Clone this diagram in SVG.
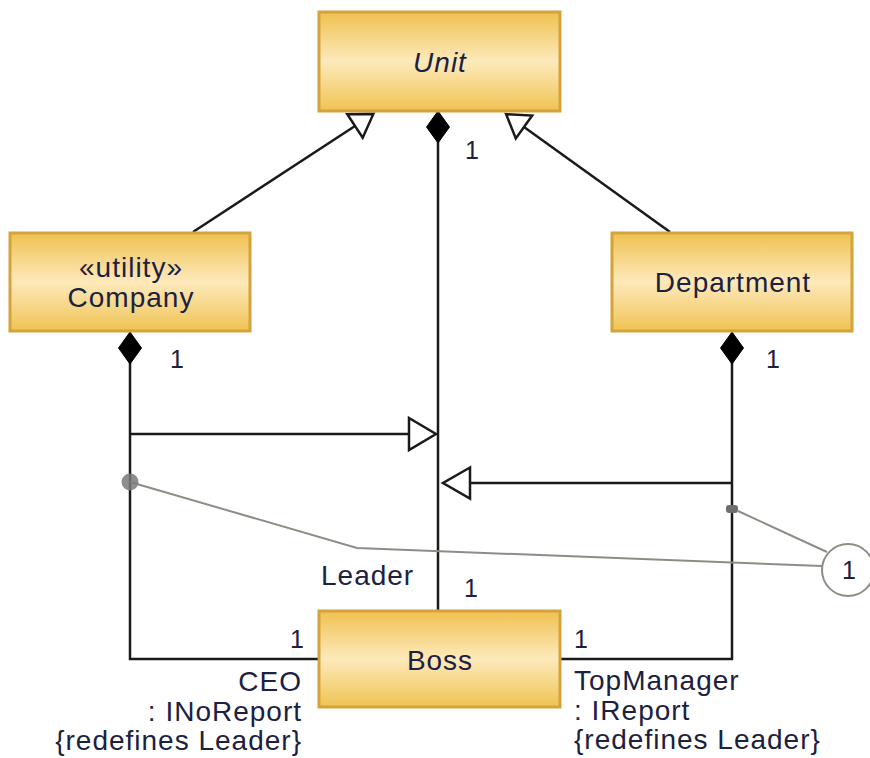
<svg xmlns="http://www.w3.org/2000/svg" width="870" height="758" viewBox="0 0 870 758">
  <defs>
    <linearGradient id="gold" x1="0" y1="0" x2="0" y2="1">
      <stop offset="0" stop-color="#efc150"/>
      <stop offset="0.5" stop-color="#fde9bb"/>
      <stop offset="1" stop-color="#efc353"/>
    </linearGradient>
    <style>
      .box { fill: url(#gold); stroke: #d5a33b; stroke-width: 3; }
      .name { font-family: "Liberation Sans", Arial, sans-serif; font-size: 28px; letter-spacing: 1px; fill: #1c2140; text-anchor: middle; }
      .lbl { font-family: "Liberation Sans", Arial, sans-serif; font-size: 28px; letter-spacing: 1px; fill: #1c2140; }
      .mult { font-family: "Liberation Sans", Arial, sans-serif; font-size: 25px; fill: #1c2140; }
      .ln { stroke: #1a1a1a; stroke-width: 2.5; fill: none; }
      .hollow { fill: #ffffff; stroke: #1a1a1a; stroke-width: 2.5; stroke-linejoin: miter; }
      .diamond { fill: #000000; stroke: #000000; stroke-width: 1; }
      .note { stroke: #8e8d85; stroke-width: 2; fill: none; }
    </style>
  </defs>

  <!-- connectors -->
  <g id="connectors">
    <!-- generalizations to Unit -->
    <line class="ln" x1="193" y1="232" x2="355" y2="126"/>
    <polygon class="hollow" points="347.3,114.3 362.7,137.7 373.4,113.9"/>
    <line class="ln" x1="670" y1="232" x2="524" y2="127"/>
    <polygon class="hollow" points="532.2,115.6 515.8,138.4 506.1,114.2"/>

    <!-- composition Unit - Boss -->
    <line class="ln" x1="438" y1="130" x2="438" y2="611"/>
    <polygon class="diamond" points="438,111 449.5,127 438,143 426.5,127"/>

    <!-- composition Company - Boss (CEO) -->
    <polyline class="ln" points="130,350 130,659 319,659"/>
    <polygon class="diamond" points="130,332 141.5,348 130,364 118.5,348"/>

    <!-- composition Department - Boss (TopManager) -->
    <polyline class="ln" points="732,350 732,659 560,659"/>
    <polygon class="diamond" points="732,332 743.5,348 732,364 720.5,348"/>

    <!-- redefinition arrows -->
    <line class="ln" x1="130" y1="434" x2="409" y2="434"/>
    <polygon class="hollow" points="409,418 436,434 409,450"/>
    <line class="ln" x1="470" y1="483" x2="732" y2="483"/>
    <polygon class="hollow" points="470,467.5 443,483 470,498.5"/>

    <!-- constraint note links -->
    <polyline class="note" points="130,482 357,548 822,566"/>
    <line class="note" x1="738" y1="511" x2="827" y2="552"/>
    <circle cx="130" cy="482" r="8.5" fill="#7a7a7a" fill-opacity="0.85"/>
    <rect x="726" y="505" width="12" height="8" rx="3" fill="#6e6e6e"/>
  </g>

  <!-- constraint marker -->
  <g id="constraint">
    <circle cx="848" cy="570" r="26" fill="#ffffff" stroke="#8e8d85" stroke-width="2"/>
    <text class="mult" x="849" y="579" text-anchor="middle">1</text>
  </g>

  <g id="unit">
    <rect class="box" x="319" y="12" width="241" height="99"/>
    <text class="name" x="440" y="72" font-style="italic">Unit</text>
  </g>

  <g id="company">
    <rect class="box" x="10" y="233" width="240" height="98"/>
    <text class="name" x="131" y="277">«utility»</text>
    <text class="name" x="131" y="307">Company</text>
  </g>

  <g id="department">
    <rect class="box" x="612" y="233" width="240" height="98"/>
    <text class="name" x="733" y="292">Department</text>
  </g>

  <g id="boss">
    <rect class="box" x="319" y="611" width="241" height="96"/>
    <text class="name" x="440" y="670">Boss</text>
  </g>

  <!-- association end labels -->
  <g id="labels">
    <text class="mult" x="465" y="159">1</text>
    <text class="mult" x="170" y="368">1</text>
    <text class="mult" x="766" y="368">1</text>
    <text class="mult" x="464" y="597">1</text>
    <text class="mult" x="304" y="648" text-anchor="end">1</text>
    <text class="mult" x="574" y="648">1</text>
    <text class="lbl" x="321" y="585">Leader</text>
    <text class="lbl" x="302" y="691" text-anchor="end">CEO</text>
    <text class="lbl" x="302" y="721" text-anchor="end">: INoReport</text>
    <text class="lbl" x="302" y="750" text-anchor="end">{redefines Leader}</text>
    <text class="lbl" x="574" y="690">TopManager</text>
    <text class="lbl" x="574" y="720">: IReport</text>
    <text class="lbl" x="574" y="749">{redefines Leader}</text>
  </g>
</svg>
